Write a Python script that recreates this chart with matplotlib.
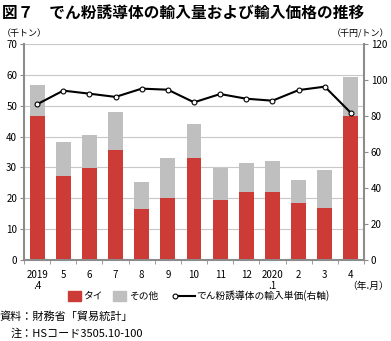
import numpy as np
import matplotlib.pyplot as plt

plt.rcParams['font.family'] = ['Noto Sans CJK JP', 'DejaVu Sans']

months = ['2019\n.4', '5', '6', '7', '8', '9', '10', '11', '12', '2020\n.1', '2', '3', '4']
thai = [46.7, 27.2, 29.7, 35.6, 16.5, 20.2, 33.2, 19.4, 22.1, 22.1, 18.6, 17.0, 46.7]
total = [56.7, 38.3, 40.5, 48.0, 25.2, 33.2, 44.1, 29.9, 31.3, 32.2, 25.9, 29.2, 59.4]
price = [86.5, 94.1, 92.4, 90.6, 95.2, 94.6, 87.6, 92.2, 89.6, 88.5, 94.4, 96.3, 81.7]

other = [t - h for t, h in zip(total, thai)]

red = '#CC3B36'
gray = '#BFBFBF'
spine = '#8C8C8C'

fig = plt.figure(figsize=(3.91, 3.41), dpi=100)
ax1 = fig.add_axes([0.0614, 0.2375, 0.8696, 0.6335])
x = np.arange(len(months))

ax1.bar(x, thai, width=0.57, color=red, zorder=2)
ax1.bar(x, other, width=0.57, bottom=thai, color=gray, zorder=2)
ax1.set_ylim(0, 70)
ax1.set_yticks(range(0, 71, 10))
ax1.set_xlim(-0.5, len(months) - 0.5)
ax1.set_xticks(x)
ax1.set_xticklabels(months, fontsize=7, linespacing=1.15)
ax1.set_xticks(np.arange(-0.5, len(months), 1), minor=True)
ax1.tick_params(axis='x', which='major', length=0, pad=7)
ax1.tick_params(axis='x', which='minor', length=3, color=spine)
ax1.tick_params(axis='y', labelsize=7, length=3, color=spine, pad=2)
ax1.grid(axis='y', color='#C8C8C8', linewidth=0.8, zorder=0)
for s in ['top', 'right']:
    ax1.spines[s].set_visible(False)
for s in ['left', 'bottom']:
    ax1.spines[s].set_color(spine)
    ax1.spines[s].set_linewidth(1.5)

ax2 = ax1.twinx()
ax2.plot(x, price, color='black', linewidth=1.5, marker='o', markersize=3.5,
         markerfacecolor='white', markeredgecolor='black', markeredgewidth=0.8, zorder=3)
ax2.set_ylim(0, 120)
ax2.set_yticks(range(0, 121, 20))
ax2.tick_params(axis='y', labelsize=7, length=3, color=spine, pad=2)
for s in ['top', 'left', 'bottom']:
    ax2.spines[s].set_visible(False)
ax2.spines['right'].set_color(spine)
ax2.spines['right'].set_linewidth(1.5)

fig.text(0.005, 0.985, '図７　でん粉誘導体の輸入量および輸入価格の推移', fontsize=11.3,
         fontweight='bold', va='top', ha='left')
fig.text(0.005, 0.902, '（千トン）', fontsize=6.5, va='center', ha='left')
fig.text(0.995, 0.902, '（千円/トン）', fontsize=6.5, va='center', ha='right')
fig.text(0.995, 1 - 286 / 341, '（年.月）', fontsize=7, va='center', ha='right')

# legend
fig.patches.append(plt.Rectangle((68 / 391, 1 - 301 / 341), 13 / 391, 10 / 341,
                                 color=red, transform=fig.transFigure))
fig.text(83 / 391, 1 - 296 / 341, 'タイ', fontsize=7, va='center')
fig.patches.append(plt.Rectangle((113 / 391, 1 - 301 / 341), 13 / 391, 10 / 341,
                                 color=gray, transform=fig.transFigure))
fig.text(129 / 391, 1 - 296 / 341, 'その他', fontsize=7, va='center')
fig.lines.append(plt.Line2D([175 / 391, 195 / 391], [1 - 296 / 341] * 2, color='black',
                            linewidth=1.5, marker='o', markevery=[0], markersize=3.5,
                            markerfacecolor='white', markeredgewidth=0.8,
                            transform=fig.transFigure))
fig.text(196 / 391, 1 - 296 / 341, 'でん粉誘導体の輸入単価(右軸)', fontsize=7, va='center')

fig.text(0.0, 1 - 317 / 341, '資料：財務省「貿易統計」', fontsize=8, va='center', ha='left')
fig.text(0.028, 1 - 334 / 341, '注：HSコード3505.10-100', fontsize=8, va='center', ha='left')

fig.savefig('out.png', dpi=100)
